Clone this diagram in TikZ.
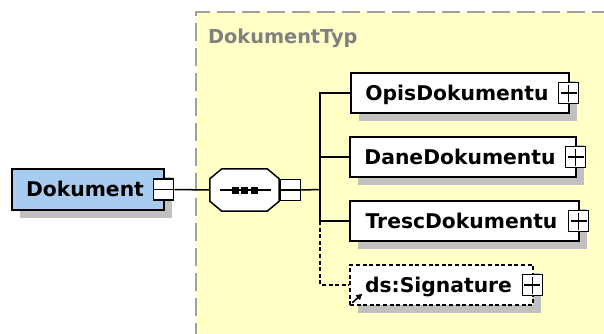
\documentclass[tikz,border=0pt]{standalone}
\usepackage{fontspec}
\setmainfont{DejaVu Sans}
\usetikzlibrary{shadows,arrows.meta}
\definecolor{elemblue}{RGB}{168,204,240}
\definecolor{typeyellow}{RGB}{255,255,198}
\definecolor{shadowgray}{RGB}{192,192,192}
\definecolor{borderdash}{RGB}{160,160,160}
\definecolor{typelabel}{RGB}{128,128,128}
% element name, kept a little left of centre to clear the expand button
\newcommand{\elname}[1]{#1\hspace*{6pt}}
\begin{document}
\begin{tikzpicture}[x=1pt,y=-1pt,
  boxshadow/.style={general shadow={fill=shadowgray, shadow xshift=8pt, shadow yshift=-8pt}},
  elem/.style={draw, line width=1.5pt, fill=white, boxshadow,
    font=\bfseries\fontsize{20.3}{21}\selectfont,
    minimum height=40pt, inner sep=0pt, text height=14.8pt, text depth=0pt},
  optelem/.style={elem, dash pattern=on 4pt off 2.6pt},
  toggle/.style={draw, line width=1.1pt, fill=white, inner sep=0pt,
    minimum width=20pt, minimum height=21pt},
  plusbox/.style={toggle, path picture={
    \draw[line width=1.1pt] ([xshift=2pt]path picture bounding box.west) -- ([xshift=-2pt]path picture bounding box.east);
    \draw[line width=1.1pt] ([yshift=-2pt]path picture bounding box.north) -- ([yshift=2pt]path picture bounding box.south);}},
  minusbox/.style={toggle, path picture={
    \draw[line width=1.1pt] (path picture bounding box.west) -- (path picture bounding box.east);}},
  conn/.style={line width=1.5pt},
  optconn/.style={conn, dash pattern=on 4pt off 2.6pt}]
\useasboundingbox (0,0) rectangle (604,333);

% complex type area
\fill[typeyellow] (196,12) rectangle (610,340);
\draw[borderdash, line width=1.6pt, dash pattern=on 18pt off 7pt]
  (610,12) -- (196,12) -- (196,340);
\node[anchor=base west, inner sep=0pt, text=typelabel,
  font=\bfseries\fontsize{19.3}{20}\selectfont] (typename) at (208,43) {DokumentTyp};

% root element
\node[elem, fill=elemblue, minimum width=152pt, minimum height=41pt] (dok) at (88,189.5) {\elname{Dokument}};
\node[minusbox] (dokx) at ([xshift=-1pt]dok.east) {};

% sequence compositor: octagon drawn round an invisible node
\node[minimum width=69pt, minimum height=42pt, inner sep=0pt] (seq) at (244.5,190) {};
\fill[shadowgray, shift={(8,8)}]
  ([xshift=12pt]seq.north west) -- ([xshift=-12pt]seq.north east) -- ([yshift=-10pt]seq.north east)
  -- ([yshift=10pt]seq.south east) -- ([xshift=-12pt]seq.south east) -- ([xshift=12pt]seq.south west)
  -- ([yshift=10pt]seq.south west) -- ([yshift=-10pt]seq.north west) -- cycle;
\filldraw[fill=white, line width=1.5pt, line join=miter]
  ([xshift=12pt]seq.north west) -- ([xshift=-12pt]seq.north east) -- ([yshift=-10pt]seq.north east)
  -- ([yshift=10pt]seq.south east) -- ([xshift=-12pt]seq.south east) -- ([xshift=12pt]seq.south west)
  -- ([yshift=10pt]seq.south west) -- ([yshift=-10pt]seq.north west) -- cycle;
\draw[conn] ([xshift=-25pt]seq.center) -- ([xshift=26pt]seq.center);
\fill ([shift={(-13,-3.5)}]seq.center) rectangle ([shift={(-6,3.5)}]seq.center);
\fill ([shift={(-3.5,-3.5)}]seq.center) rectangle ([shift={(3.5,3.5)}]seq.center);
\fill ([shift={(6,-3.5)}]seq.center) rectangle ([shift={(13,3.5)}]seq.center);
\node[minusbox] (seqx) at ([xshift=11.5pt]seq.east) {};

% child elements
\node[elem, minimum width=218pt] (opis) at (460,93) {\elname{OpisDokumentu}};
\node[plusbox] (opisx) at ([xshift=-1pt]opis.east) {};
\node[elem, minimum width=226pt] (dane) at (463,157) {\elname{DaneDokumentu}};
\node[plusbox] (danex) at ([xshift=-1pt]dane.east) {};
\node[elem, minimum width=229pt] (tresc) at (464.5,221) {\elname{TrescDokumentu}};
\node[plusbox] (trescx) at ([xshift=-1pt]tresc.east) {};
\node[optelem, minimum width=183pt] (sig) at (441.5,285) {\elname{ds:Signature}};
\node[plusbox] (sigx) at ([xshift=-1.5pt]sig.east) {};
\draw[line width=1.6pt, -{Triangle[length=6pt,width=6pt]}]
  ([shift={(3,-3)}]sig.south west) -- ([shift={(13,-12)}]sig.south west);

% connectors
\coordinate (hub) at (320,189.5);
\draw[conn] (dokx.east) -- (seq.west);
\draw[conn] (seqx.east) -- (hub);
\draw[conn] (hub) |- (opis.west);
\draw[conn] (hub) |- (dane.west);
\draw[conn] (hub) |- (tresc.west);
\draw[optconn] (hub |- tresc.west) |- (sig.west);
\end{tikzpicture}
\end{document}
